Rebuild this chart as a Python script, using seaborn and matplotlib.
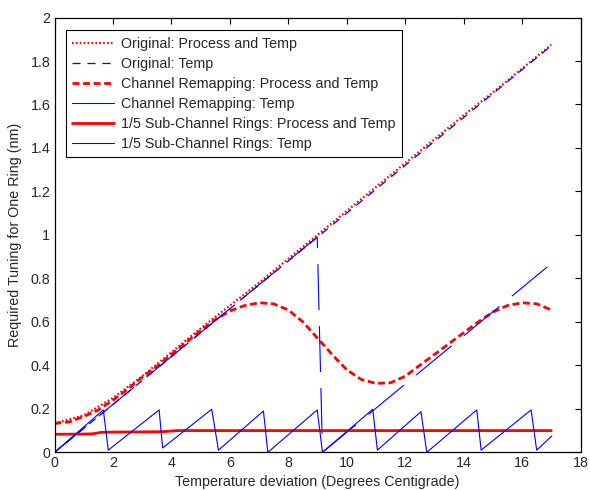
import matplotlib
matplotlib.use("Agg")
import matplotlib.pyplot as plt
from matplotlib.lines import Line2D
import seaborn as sns
import pandas as pd

# ---------------- data ----------------
orig_pt_x = [0, 1, 2, 3, 4, 5, 6, 7, 8, 9, 10, 11, 12, 13, 14, 15, 16, 17]
orig_pt_y = [0.133, 0.17, 0.25, 0.35, 0.46, 0.57, 0.675, 0.78, 0.89, 1.0,
             1.11, 1.22, 1.33, 1.44, 1.55, 1.655, 1.765, 1.875]

orig_t_x = [0, 17]
orig_t_y = [0, 1.87]

cr_pt_x = [0, 0.5, 1, 1.5, 2, 2.5, 3, 3.5, 4, 4.5, 5, 5.5, 6, 6.5, 7, 7.5, 8,
           8.5, 9, 9.5, 10, 10.5, 11, 11.5, 12, 12.5, 13, 13.5, 14, 14.5, 15,
           15.5, 16, 16.5, 17]
cr_pt_y = [0.133, 0.14, 0.165, 0.195, 0.24, 0.29, 0.345, 0.395, 0.45, 0.505,
           0.56, 0.61, 0.65, 0.675, 0.688, 0.683, 0.655, 0.6, 0.525, 0.45,
           0.38, 0.335, 0.317, 0.32, 0.35, 0.40, 0.45, 0.5, 0.55, 0.60, 0.645,
           0.675, 0.688, 0.683, 0.655]

cr_t_x = [0, 8.99, 9.17, 17.0]
cr_t_y = [0, 0.99, 0.0, 0.868]

sub_pt_x = [0, 1, 1.3, 1.6, 2, 3, 3.7, 4.2, 5, 6, 7, 8, 9, 10, 11, 12, 13, 14,
            15, 16, 17]
sub_pt_y = [0.083, 0.084, 0.085, 0.092, 0.093, 0.094, 0.095, 0.1, 0.1, 0.1,
            0.1, 0.1, 0.1, 0.1, 0.1, 0.1, 0.1, 0.1, 0.1, 0.1, 0.1]

sub_t_x = [0, 1.67, 1.84, 3.58, 3.70, 5.38, 5.61, 7.15, 7.30, 8.99, 9.17,
           10.89, 11.05, 12.54, 12.74, 14.45, 14.6, 16.31, 16.5, 17.02]
sub_t_y = [0, 0.195, 0.01, 0.195, 0.02, 0.198, 0.01, 0.19, 0.0, 0.195, 0.0,
           0.198, 0.01, 0.187, 0.0, 0.195, 0.01, 0.195, 0.01, 0.075]

labels = ["Original: Process and Temp",
          "Original: Temp",
          "Channel Remapping: Process and Temp",
          "Channel Remapping: Temp",
          "1/5 Sub-Channel Rings: Process and Temp",
          "1/5 Sub-Channel Rings: Temp"]

x_ticks = [0, 2, 4, 6, 8, 10, 12, 14, 16, 18]
y_ticks = [0, 0.2, 0.4, 0.6, 0.8, 1.0, 1.2, 1.4, 1.6, 1.8, 2.0]
y_tick_labels = ["0", "0.2", "0.4", "0.6", "0.8", "1", "1.2", "1.4", "1.6",
                 "1.8", "2"]

# ---------------- style ----------------
sns.set_style("white")
plt.rcParams["font.family"] = ["Liberation Sans", "DejaVu Sans"]
plt.rcParams["lines.scale_dashes"] = False
plt.rcParams["xtick.direction"] = "in"
plt.rcParams["ytick.direction"] = "in"

fig = plt.figure(figsize=(5.9, 4.9), dpi=100)
ax = fig.add_axes([0.0924, 0.0769, 0.8915, 0.8873])

RED = "#ff0000"
BLUE = "#0000ff"

series = [
    (orig_pt_x, orig_pt_y, dict(color=RED, lw=1.6, linestyle=(0, (1.2, 1.6)))),
    (orig_t_x, orig_t_y, dict(color=BLUE, lw=0.9, linestyle=(0, (5.8, 5.0)))),
    (cr_pt_x, cr_pt_y, dict(color=RED, lw=2.0, linestyle=(0, (5.0, 2.6)))),
    (cr_t_x, cr_t_y, dict(color=BLUE, lw=0.8, linestyle=(3.6, (33.1, 11.5)))),
    (sub_pt_x, sub_pt_y, dict(color=RED, lw=2.0, linestyle="-")),
    (sub_t_x, sub_t_y, dict(color=BLUE, lw=0.8, linestyle="-")),
]

for xs, ys, kw in series:
    df = pd.DataFrame({"x": xs, "y": ys})
    sns.lineplot(data=df, x="x", y="y", ax=ax, sort=False, estimator=None,
                 legend=False, **kw)

ax.set_xlim(0, 18)
ax.set_ylim(0, 2)
ax.set_xticks(x_ticks)
ax.set_xticklabels([str(t) for t in x_ticks])
ax.set_yticks(y_ticks)
ax.set_yticklabels(y_tick_labels)
ax.tick_params(axis="both", which="both", direction="in", length=4,
               width=0.8, color="black", labelsize=10.3, top=True, right=True,
               pad=3)
for s in ax.spines.values():
    s.set_visible(True)
    s.set_color("black")
    s.set_linewidth(0.9)

ax.set_xlabel("Temperature deviation (Degrees Centigrade)", fontsize=10.3,
              labelpad=3)
ax.set_ylabel("Required Tuning for One Ring (nm)", fontsize=10.3, labelpad=6)

handles = [
    Line2D([], [], color=RED, lw=1.6, linestyle=(0, (1.2, 1.6))),
    Line2D([], [], color=BLUE, lw=0.9, linestyle=(0, (5.8, 5.0))),
    Line2D([], [], color=RED, lw=2.0, linestyle=(0, (5.0, 2.6))),
    Line2D([], [], color=BLUE, lw=0.8, linestyle="-"),
    Line2D([], [], color=RED, lw=2.0, linestyle="-"),
    Line2D([], [], color=BLUE, lw=0.8, linestyle="-"),
]
leg = ax.legend(handles, labels, loc="upper left",
                bbox_to_anchor=(0.0219, 0.971), borderaxespad=0,
                fontsize=10.3, handlelength=2.9, handletextpad=0.5,
                labelspacing=0.42, borderpad=0.45, fancybox=False,
                frameon=True, edgecolor="black", framealpha=1)
leg.get_frame().set_linewidth(0.8)

fig.savefig("out.png", dpi=100)
